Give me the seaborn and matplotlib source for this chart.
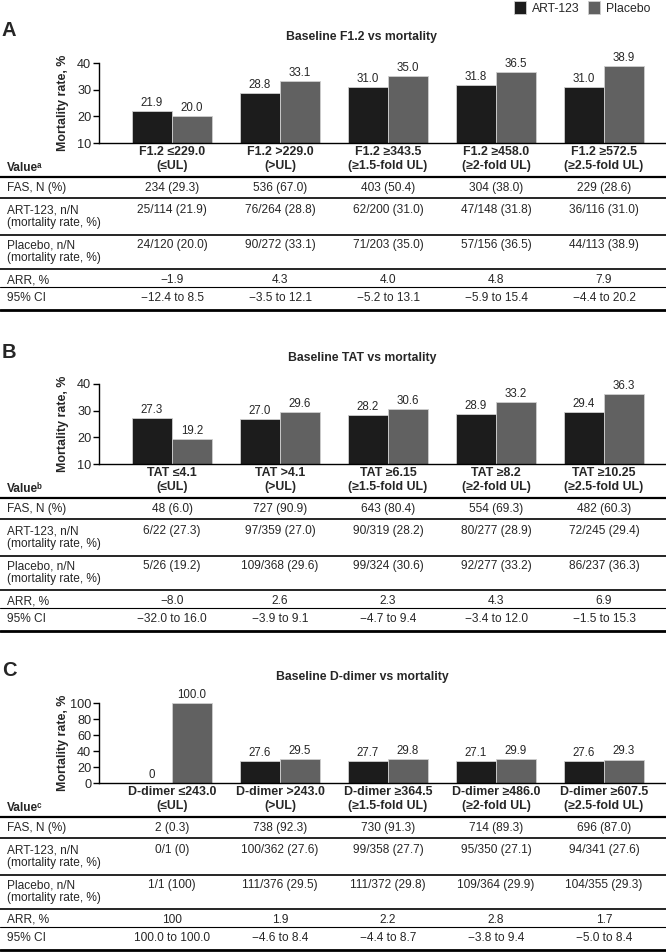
import numpy as np
import pandas as pd
import matplotlib
matplotlib.use("Agg")
import matplotlib.pyplot as plt
import matplotlib.transforms as mtransforms
from matplotlib.lines import Line2D
import seaborn as sns

# ---------------- data ----------------
groups = ["ART-123", "Placebo"]
bar_colors = ["#1c1c1c", "#616161"]

row_labels = ["FAS, N (%)", "ART-123, n/N\n(mortality rate, %)",
              "Placebo, n/N\n(mortality rate, %)", "ARR, %", "95% CI"]

a_title = "Baseline F1.2 vs mortality"
a_value = "Valueᵃ"
a_cats = ["F1.2 ≤229.0\n(≤UL)", "F1.2 >229.0\n(>UL)", "F1.2 ≥343.5\n(≥1.5-fold UL)",
          "F1.2 ≥458.0\n(≥2-fold UL)", "F1.2 ≥572.5\n(≥2.5-fold UL)"]
a_art = [21.9, 28.8, 31.0, 31.8, 31.0]
a_pbo = [20.0, 33.1, 35.0, 36.5, 38.9]
a_fas = ["234 (29.3)", "536 (67.0)", "403 (50.4)", "304 (38.0)", "229 (28.6)"]
a_art_n = ["25/114 (21.9)", "76/264 (28.8)", "62/200 (31.0)", "47/148 (31.8)", "36/116 (31.0)"]
a_pbo_n = ["24/120 (20.0)", "90/272 (33.1)", "71/203 (35.0)", "57/156 (36.5)", "44/113 (38.9)"]
a_arr = ["−1.9", "4.3", "4.0", "4.8", "7.9"]
a_ci = ["−12.4 to 8.5", "−3.5 to 12.1", "−5.2 to 13.1", "−5.9 to 15.4", "−4.4 to 20.2"]
a_yticks = [10, 20, 30, 40]

b_title = "Baseline TAT vs mortality"
b_value = "Valueᵇ"
b_cats = ["TAT ≤4.1\n(≤UL)", "TAT >4.1\n(>UL)", "TAT ≥6.15\n(≥1.5-fold UL)",
          "TAT ≥8.2\n(≥2-fold UL)", "TAT ≥10.25\n(≥2.5-fold UL)"]
b_art = [27.3, 27.0, 28.2, 28.9, 29.4]
b_pbo = [19.2, 29.6, 30.6, 33.2, 36.3]
b_fas = ["48 (6.0)", "727 (90.9)", "643 (80.4)", "554 (69.3)", "482 (60.3)"]
b_art_n = ["6/22 (27.3)", "97/359 (27.0)", "90/319 (28.2)", "80/277 (28.9)", "72/245 (29.4)"]
b_pbo_n = ["5/26 (19.2)", "109/368 (29.6)", "99/324 (30.6)", "92/277 (33.2)", "86/237 (36.3)"]
b_arr = ["−8.0", "2.6", "2.3", "4.3", "6.9"]
b_ci = ["−32.0 to 16.0", "−3.9 to 9.1", "−4.7 to 9.4", "−3.4 to 12.0", "−1.5 to 15.3"]
b_yticks = [10, 20, 30, 40]

c_title = "Baseline D-dimer vs mortality"
c_value = "Valueᶜ"
c_cats = ["D-dimer ≤243.0\n(≤UL)", "D-dimer >243.0\n(>UL)", "D-dimer ≥364.5\n(≥1.5-fold UL)",
          "D-dimer ≥486.0\n(≥2-fold UL)", "D-dimer ≥607.5\n(≥2.5-fold UL)"]
c_art = [0.0, 27.6, 27.7, 27.1, 27.6]
c_pbo = [100.0, 29.5, 29.8, 29.9, 29.3]
c_fas = ["2 (0.3)", "738 (92.3)", "730 (91.3)", "714 (89.3)", "696 (87.0)"]
c_art_n = ["0/1 (0)", "100/362 (27.6)", "99/358 (27.7)", "95/350 (27.1)", "94/341 (27.6)"]
c_pbo_n = ["1/1 (100)", "111/376 (29.5)", "111/372 (29.8)", "109/364 (29.9)", "104/355 (29.3)"]
c_arr = ["100", "1.9", "2.2", "2.8", "1.7"]
c_ci = ["100.0 to 100.0", "−4.6 to 8.4", "−4.4 to 8.7", "−3.8 to 9.4", "−5.0 to 8.4"]
c_yticks = [0, 20, 40, 60, 80, 100]

panels = [
    ("A", a_title, a_value, a_cats, a_art, a_pbo, [a_fas, a_art_n, a_pbo_n, a_arr, a_ci], a_yticks),
    ("B", b_title, b_value, b_cats, b_art, b_pbo, [b_fas, b_art_n, b_pbo_n, b_arr, b_ci], b_yticks),
    ("C", c_title, c_value, c_cats, c_art, c_pbo, [c_fas, c_art_n, c_pbo_n, c_arr, c_ci], c_yticks),
]

# ---------------- style ----------------
sns.set_style("ticks")
plt.rcParams["font.family"] = ["Liberation Sans", "DejaVu Sans"]
plt.rcParams["axes.unicode_minus"] = True

W, H = 666, 952
fig = plt.figure(figsize=(W / 100, H / 100), dpi=100)


def fx(px):
    return px / W


def fy(py):
    return 1 - py / H


FS = 8.6
bases = [0, 321, 640]

# table layout (pixel rows relative to panel base)
row_text_y = [188, 210, 245, 280, 298]
rule_y = [(177, 1.6), (198, 1.2), (235, 1.2), (269, 1.2), (287, 0.8), (310, 2.0)]


def fmt(v):
    return "0" if v == 0 else f"{v:.1f}"


for (letter, title, value_lbl, cats, art, pbo, rows, yticks), base in zip(panels, bases):
    ax = fig.add_axes([fx(99), fy(base + 143), fx(666) - fx(99), (143 - 63) / H])
    df = pd.DataFrame({
        "category": cats * 2,
        "group": [groups[0]] * len(cats) + [groups[1]] * len(cats),
        "rate": list(art) + list(pbo),
    })
    sns.barplot(data=df, x="category", y="rate", hue="group", order=cats,
                hue_order=groups, palette=bar_colors, saturation=1, width=0.74,
                edgecolor="#cfcfcf", linewidth=0.6, ax=ax, legend=(letter == "A"))
    ax.set_xlim(-0.676, 4.574)
    ax.set_ylim(yticks[0], yticks[-1])
    ax.set_yticks(yticks)
    sns.despine(ax=ax)
    for sp in ("left", "bottom"):
        ax.spines[sp].set_linewidth(1.0)
        ax.spines[sp].set_color("black")
    ax.tick_params(axis="y", length=4, width=1.0, labelsize=FS + 0.6, pad=1.5, color="black")
    ax.tick_params(axis="x", length=0, pad=2.0)
    ax.set_xlabel("")
    for lbl in ax.get_xticklabels():
        lbl.set_fontweight("bold")
        lbl.set_fontsize(FS + 0.3)
        lbl.set_linespacing(1.22)
    ax.set_ylabel("Mortality rate, %", fontweight="bold", fontsize=FS + 0.3)
    ax.yaxis.set_label_coords(-0.0635, 0.5)
    ax.yaxis.label.set_va("center")

    for cont, vals in zip(ax.containers, [art, pbo]):
        ax.bar_label(cont, labels=[fmt(v) for v in vals], padding=1.5, fontsize=FS - 0.3)

    if letter == "A":
        sns.move_legend(ax, "upper right", bbox_to_anchor=(fx(650), fy(1)),
                        bbox_transform=fig.transFigure, ncol=2, frameon=False,
                        title=None, fontsize=FS + 0.2, handlelength=0.95,
                        handleheight=1.25, handletextpad=0.5, columnspacing=0.7,
                        borderpad=0, borderaxespad=0)

    # panel letter and title
    fig.text(fx(2), fy(base + 31), letter, fontsize=14.5, fontweight="bold", va="center", ha="left")
    fig.text(fx(362), fy(base + 37), title, fontsize=FS + 0.2, fontweight="bold",
             ha="center", va="center")

    # table
    fig.text(fx(7), fy(base + 168), value_lbl, fontsize=FS, fontweight="bold",
             ha="left", va="center")
    trans = mtransforms.blended_transform_factory(ax.transData, fig.transFigure)
    for r, (lab, vals, ty) in enumerate(zip(row_labels, rows, row_text_y)):
        if "\n" in lab:
            fig.text(fx(7), fy(base + ty + 6.5), lab, fontsize=FS, ha="left", va="center",
                     linespacing=1.08)
        else:
            fig.text(fx(7), fy(base + ty), lab, fontsize=FS, ha="left", va="center")
        for i, v in enumerate(vals):
            ax.text(i, fy(base + ty), v, transform=trans, fontsize=FS, ha="center",
                    va="center", clip_on=False)
    for yy, lw in rule_y:
        fig.add_artist(Line2D([0, 1], [fy(base + yy)] * 2, transform=fig.transFigure,
                              color="black", lw=lw))

fig.savefig("out.png", dpi=100)
